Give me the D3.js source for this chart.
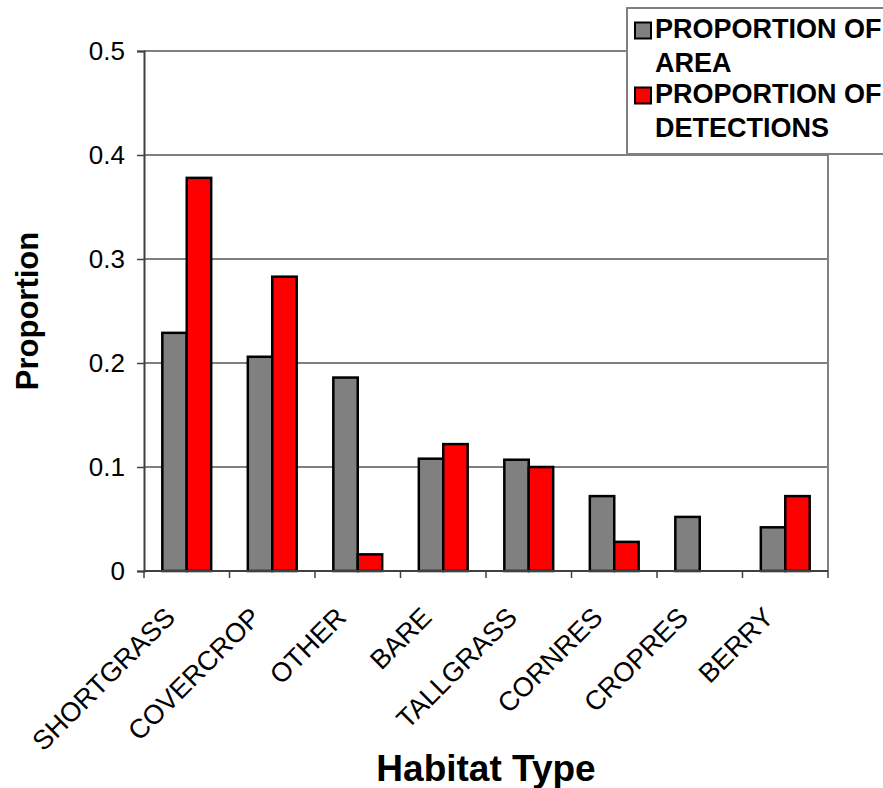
<!DOCTYPE html>
<html>
<head>
<meta charset="utf-8">
<script src="https://cdn.jsdelivr.net/npm/d3@7"></script>
<style>
  html, body { margin: 0; padding: 0; background: #fff; }
  svg { display: block; font-family: "Liberation Sans", Arial, sans-serif; }
</style>
</head>
<body>
<svg id="chart" width="883" height="788"></svg>
<script>
// Habitat use: share of area vs share of detections
const categories = ["SHORTGRASS", "COVERCROP", "OTHER", "BARE", "TALLGRASS", "CORNRES", "CROPRES", "BERRY"];
const areaValues = [0.229, 0.206, 0.186, 0.108, 0.107, 0.072, 0.052, 0.042];
const detectionValues = [0.378, 0.283, 0.016, 0.122, 0.100, 0.028, 0, 0.072];
const seriesNames = ["PROPORTION OF AREA", "PROPORTION OF DETECTIONS"];
const seriesLegendLines = [["PROPORTION OF", "AREA"], ["PROPORTION OF", "DETECTIONS"]];
const seriesColors = ["#808080", "#ff0000"];
const yTicks = [0, 0.1, 0.2, 0.3, 0.4, 0.5];

const svg = d3.select("#chart");
const plot = { left: 144, right: 828, top: 51, bottom: 571 };

const x = d3.scaleBand().domain(categories).range([plot.left, plot.right]).paddingInner(0).paddingOuter(0);
const xSub = d3.scaleBand().domain(seriesNames).range([0, x.bandwidth()]).paddingInner(0).paddingOuter(0.75);
const y = d3.scaleLinear().domain([0, 0.5]).range([plot.bottom, plot.top]);

// gridlines
svg.append("g")
  .selectAll("line")
  .data(yTicks.filter(t => t > 0 && t < 0.5))
  .join("line")
  .attr("x1", plot.left).attr("x2", plot.right)
  .attr("y1", d => y(d)).attr("y2", d => y(d))
  .attr("stroke", "#000").attr("stroke-width", 1);

// plot frame (top and right)
svg.append("path")
  .attr("d", `M${plot.left},${y(0.5)}H${plot.right}V${plot.bottom}`)
  .attr("fill", "none").attr("stroke", "#808080").attr("stroke-width", 2);

// bars
const rows = categories.map((c, i) => ({ cat: c, values: [areaValues[i], detectionValues[i]] }));
const groups = svg.append("g").selectAll("g")
  .data(rows).join("g")
  .attr("transform", d => `translate(${x(d.cat)},0)`);
groups.selectAll("rect")
  .data(d => d.values.map((v, k) => ({ v, k })).filter(e => e.v > 0))
  .join("rect")
  .attr("x", e => xSub(seriesNames[e.k]))
  .attr("width", xSub.bandwidth())
  .attr("y", e => y(e.v))
  .attr("height", e => y(0) - y(e.v))
  .attr("fill", e => seriesColors[e.k])
  .attr("stroke", "#000").attr("stroke-width", 2.5);

// y axis
const yAxis = svg.append("g")
  .attr("transform", `translate(${plot.left},0)`)
  .call(d3.axisLeft(y).tickValues(yTicks).tickSize(7).tickPadding(12).tickFormat(d => d === 0 ? "0" : d3.format(".1f")(d)));
yAxis.select(".domain").attr("stroke", "#404040").attr("stroke-width", 2);
yAxis.selectAll(".tick line").attr("stroke", "#404040").attr("stroke-width", 1.5);
yAxis.selectAll(".tick text").attr("font-size", 26).attr("fill", "#000")
  .attr("font-family", "'Liberation Sans', Arial, sans-serif");

// x axis
const xTickPositions = d3.range(categories.length + 1).map(i => plot.left + i * x.step());
const xAxisG = svg.append("g");
xAxisG.append("line")
  .attr("x1", plot.left).attr("x2", plot.right)
  .attr("y1", plot.bottom).attr("y2", plot.bottom)
  .attr("stroke", "#404040").attr("stroke-width", 2);
xAxisG.selectAll("line.tk")
  .data(xTickPositions).join("line")
  .attr("class", "tk")
  .attr("x1", d => d).attr("x2", d => d)
  .attr("y1", plot.bottom).attr("y2", plot.bottom + 7)
  .attr("stroke", "#404040").attr("stroke-width", 1.5);

// category labels, rotated
svg.append("g").selectAll("text")
  .data(categories).join("text")
  .attr("transform", d => `translate(${x(d) + x.bandwidth() / 2 - 10},619) rotate(-45)`)
  .attr("text-anchor", "end")
  .attr("font-size", 27)
  .attr("fill", "#000")
  .text(d => d);

// axis titles
svg.append("text")
  .attr("transform", `translate(38,${(plot.top + plot.bottom) / 2}) rotate(-90)`)
  .attr("text-anchor", "middle")
  .attr("font-size", 31).attr("font-weight", "bold")
  .text("Proportion");

svg.append("text")
  .attr("x", (plot.left + plot.right) / 2)
  .attr("y", 781)
  .attr("text-anchor", "middle")
  .attr("font-size", 37).attr("font-weight", "bold")
  .text("Habitat Type");

// legend
const legend = svg.append("g");
legend.append("rect")
  .attr("x", 627).attr("y", 8).attr("width", 270).attr("height", 146)
  .attr("fill", "#fff").attr("stroke", "#808080").attr("stroke-width", 2);
const entryY = [22.5, 87.5];
const item = legend.selectAll("g.item")
  .data(seriesNames).join("g")
  .attr("class", "item")
  .attr("transform", (d, i) => `translate(0,${entryY[i]})`);
item.append("rect")
  .attr("x", 635).attr("y", 0).attr("width", 16).attr("height", 16)
  .attr("fill", (d, i) => seriesColors[i])
  .attr("stroke", "#000").attr("stroke-width", 2);
item.each(function (d, i) {
  const t = d3.select(this).append("text")
    .attr("x", 655).attr("y", 15)
    .attr("font-size", 27).attr("font-weight", "bold").attr("fill", "#000");
  seriesLegendLines[i].forEach((line, j) => {
    t.append("tspan").attr("x", 655).attr("dy", j === 0 ? 0 : 34.5).text(line);
  });
});
</script>
</body>
</html>
